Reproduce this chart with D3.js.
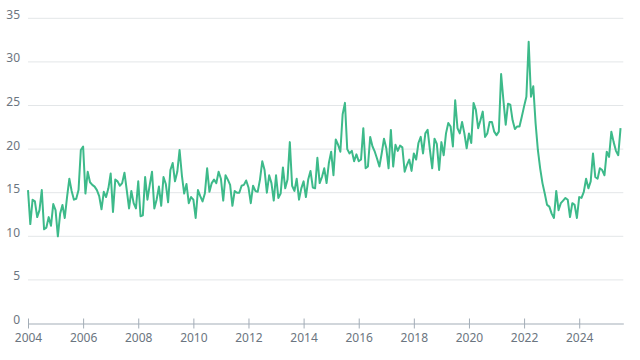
<!DOCTYPE html>
<html>
<head>
<meta charset="utf-8">
<script src="https://cdn.jsdelivr.net/npm/d3@7"></script>
<style>
  html, body { margin: 0; padding: 0; background: #fff; }
  svg { display: block; }
  text { font-family: "Noto Sans", "Open Sans", sans-serif; }
</style>
</head>
<body>
<svg id="chart" width="640" height="360"></svg>
<script>
// Monthly series starting January 2004
const startYear = 2004;
const values = [
  15.3, 11.4, 14.2, 14.0, 12.2, 13.0, 15.3, 10.8, 11.0, 12.2, 11.2, 13.7,
  13.0, 10.0, 12.6, 13.6, 12.1, 14.5, 16.6, 15.2, 14.2, 14.3, 15.3, 19.9,
  20.3, 14.9, 17.4, 16.2, 15.9, 15.7, 15.3, 14.6, 13.1, 15.1, 14.5, 15.5,
  17.2, 12.8, 16.5, 16.3, 15.8, 16.1, 17.3, 15.3, 13.2, 15.2, 13.8, 13.2,
  16.3, 12.3, 12.4, 16.8, 14.2, 15.9, 17.4, 13.2, 14.2, 15.7, 13.5, 16.8,
  16.0, 13.9, 17.6, 18.4, 16.3, 17.4, 19.9, 17.0, 14.9, 16.0, 13.8, 14.5,
  14.2, 12.1, 15.3, 14.6, 14.0, 14.9, 17.8, 15.1, 16.1, 16.5, 16.1, 17.4,
  16.6, 14.1, 17.0, 16.5, 15.9, 13.5, 15.2, 15.0, 15.0, 15.8, 15.9, 16.4,
  15.6, 13.8, 15.8, 15.2, 15.1, 16.5, 18.6, 17.6, 15.0, 17.0, 16.1, 14.1,
  17.0, 14.4, 14.9, 17.9, 15.5, 16.5, 20.8, 15.8, 15.2, 16.6, 14.2, 15.5,
  16.3, 14.5, 16.5, 17.5, 15.6, 15.5, 19.0, 16.1, 16.8, 17.8, 16.1, 18.4,
  19.7, 17.0, 21.1, 20.5, 19.7, 24.0, 25.3, 20.0, 19.5, 19.8, 18.6, 19.4,
  18.6, 18.8, 22.4, 17.8, 18.0, 21.4, 20.3, 19.7, 18.9, 18.0, 19.5, 21.2,
  20.1, 17.8, 22.2, 18.0, 20.5, 19.8, 20.4, 20.2, 17.4, 18.2, 18.8, 17.5,
  19.5, 18.8, 20.7, 21.4, 19.5, 21.8, 22.2, 19.9, 17.8, 21.2, 20.6, 17.6,
  20.8, 19.3, 21.8, 23.0, 22.6, 20.3, 25.6, 22.4, 21.8, 23.1, 21.8, 20.1,
  21.8, 20.7, 25.3, 24.5, 22.4, 23.3, 24.3, 21.4, 21.8, 23.1, 23.1, 22.0,
  21.6, 22.0, 28.6, 25.6, 22.8, 25.2, 25.1, 23.3, 22.3, 22.6, 22.6, 23.7,
  24.9, 26.0, 32.3, 26.0, 27.2, 23.0, 19.9, 17.8, 16.1, 14.9, 13.6, 13.4,
  12.6, 12.1, 15.2, 13.0, 13.8, 14.1, 14.4, 14.2, 12.2, 13.8, 13.6, 12.1,
  14.5, 14.4, 15.1, 16.6, 15.5, 16.3, 19.5, 16.8, 16.6, 17.8, 17.6, 17.0,
  19.7, 19.1, 22.0, 20.8, 19.8, 19.3, 22.4
];
const xTickYears = [2004, 2006, 2008, 2010, 2012, 2014, 2016, 2018, 2020, 2022, 2024];
const yTicks = [0, 5, 10, 15, 20, 25, 30, 35];

const data = values.map((v, i) => ({ t: startYear + i / 12, v }));

const svg = d3.select("#chart");
const x = d3.scaleLinear().domain([2004, 2025.6]).range([28, 623.3]);
const y = d3.scaleLinear().domain([0, 35]).range([323.5, 18.3]);

// gridlines
svg.append("g")
  .selectAll("line")
  .data(yTicks.filter(d => d > 0))
  .join("line")
  .attr("x1", x.range()[0]).attr("x2", x.range()[1])
  .attr("y1", d => y(d)).attr("y2", d => y(d))
  .attr("stroke", "#e3e6e8").attr("stroke-width", 1);

// y labels
svg.append("g")
  .selectAll("text")
  .data(yTicks)
  .join("text")
  .attr("x", 20)
  .attr("y", d => y(d) + 0.5)
  .attr("text-anchor", "end")
  .attr("font-size", 12)
  .attr("fill", "#6b7580")
  .text(d => d);

// x axis
const xAxis = d3.axisBottom(x)
  .tickValues(xTickYears)
  .tickFormat(d3.format("d"))
  .tickSizeInner(5)
  .tickSizeOuter(0)
  .tickPadding(5);

const gx = svg.append("g")
  .attr("transform", `translate(0,${y(0)})`)
  .call(xAxis);
gx.select(".domain").attr("stroke", "#a3adb7").attr("stroke-width", 1.2);
gx.selectAll(".tick line").attr("stroke", "#a3adb7").attr("y1", -5).attr("y2", 5);
gx.selectAll(".tick text")
  .attr("font-size", 12)
  .attr("font-family", "'Noto Sans', 'Open Sans', sans-serif")
  .attr("fill", "#6b7580");

// line
const line = d3.line()
  .x(d => x(d.t))
  .y(d => y(d.v));

svg.append("path")
  .datum(data)
  .attr("fill", "none")
  .attr("stroke", "#3dba8a")
  .attr("stroke-width", 2)
  .attr("stroke-linejoin", "round")
  .attr("d", line);
</script>
</body>
</html>
